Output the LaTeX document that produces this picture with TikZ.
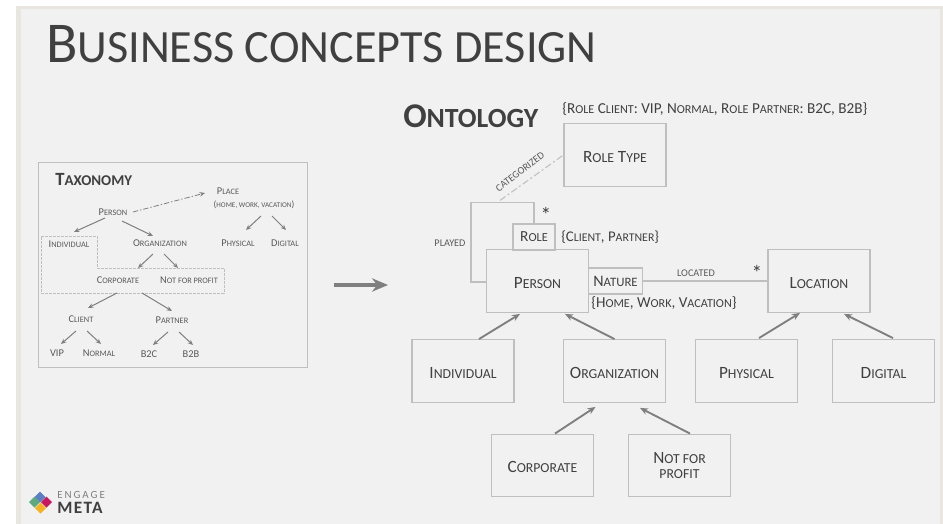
\documentclass[tikz,border=0pt]{standalone}
\usepackage{fontspec}
\setmainfont{Carlito}
\usetikzlibrary{arrows.meta,calc}
\definecolor{slide}{HTML}{F1F1F1}
\definecolor{band}{HTML}{E9E5E1}
\definecolor{edge}{HTML}{BFBFBF}
\definecolor{ink}{HTML}{404040}
\definecolor{inkb}{HTML}{595959}
\definecolor{arr}{HTML}{7F7F7F}
\makeatletter
\newcommand{\sm}[1]{{\fontsize{\fpeval{.8*\f@size}}{0}\selectfont #1}}
\makeatother
\newcommand{\fsz}[1]{\fontsize{#1}{#1}\selectfont}
\newcommand{\low}[1]{\raisebox{-1.4pt}[\height][\depth]{#1}}
\tikzset{
 x=.75pt,y=-.75pt,
 box/.style={draw=edge,line width=.9pt,fill=slide,inner sep=0pt,align=center,text=ink,font=\fsz{12.9},minimum width=76.5pt,minimum height=47pt},
 ttext/.style={inner sep=0pt,text=inkb,font=\fsz{7.8}},
 otext/.style={inner sep=0pt,text=ink,font=\fsz{11.4}},
 rlabel/.style={inner sep=0pt,text=inkb,font=\fsz{9.6}},
 bigtitle/.style={inner sep=0pt,text=ink,anchor=west},
 tarrow/.style={draw=arr,line width=.75pt,-{Stealth[length=4pt,width=3.4pt]}},
 oarrow/.style={draw=arr,line width=1.4pt,-{Stealth[length=6pt,width=5pt]}},
 dashdot/.style={draw=arr,line width=.6pt,dash pattern=on 4pt off 1.5pt on 1pt off 1.5pt},
 odashdot/.style={draw=edge,line width=.8pt,dash pattern=on 5pt off 2pt on 1.5pt off 2pt},
 oline/.style={draw=edge,line width=.9pt},
}
\begin{document}
\begin{tikzpicture}
\useasboundingbox (0,0) rectangle (943,524);
\fill[white] (0,0) rectangle (943,524);
\fill[band] (16,6) rectangle (943,524);
\fill[slide] (21,9) rectangle (940,524);
% titles
\node[bigtitle,font=\fsz{43.3}] (title) at (46,44) {B\sm{USINESS CONCEPTS DESIGN}};
\node[bigtitle,font=\bfseries\fsz{26}] (onto) at (403,116) {O\sm{NTOLOGY}};
% taxonomy
\draw[draw=edge,line width=.7pt] (38,162) rectangle (307,367);
\node[bigtitle,font=\bfseries\fsz{14}] (taxo) at (55,180) {T\sm{AXONOMY}};
\node[ttext] (tper) at (113,212) {P\sm{ERSON}};
\node[ttext] (tpla) at (228,191) {P\sm{LACE}};
\node[ttext,font=\fsz{6.8}] (thome) at (254,205) {(\sm{HOME, WORK, VACATION})};
\node[ttext] (tind) at (69,244) {I\sm{NDIVIDUAL}};
\node[ttext] (torg) at (160,243) {O\sm{RGANIZATION}};
\node[ttext] (tphy) at (238,243) {P\sm{HYSICAL}};
\node[ttext] (tdig) at (285,243) {D\sm{IGITAL}};
\node[ttext] (tcor) at (118,280) {C\sm{ORPORATE}};
\node[ttext] (tnfp) at (189,280) {N\sm{OT FOR PROFIT}};
\node[ttext] (tcli) at (81,319) {C\sm{LIENT}};
\node[ttext] (tpar) at (172,320) {P\sm{ARTNER}};
\node[ttext] (tvip) at (57,353) {VIP};
\node[ttext] (tnor) at (99,353) {N\sm{ORMAL}};
\node[ttext] (tb2c) at (149,354) {B2C};
\node[ttext] (tb2b) at (191,354) {B2B};
\draw[draw=edge,line width=.5pt,dash pattern=on 2pt off 1pt] (41,236) -- (97,236) -- (97,268) -- (224,268) -- (224,293) -- (41,293) -- cycle;
\draw[tarrow] ([shift={(-8,6)}]tper.center) -- ([shift={(5,-12)}]tind.center);
\draw[tarrow] ([shift={(9,9)}]tper.center) -- ([shift={(-7,-7)}]torg.center);
\draw[dashdot,-{Stealth[length=4pt,width=3.4pt]}] ([shift={(20,0)}]tper.center) -- ([shift={(-23,2)}]tpla.center);
\draw[tarrow] ([shift={(7,11)}]thome.center) -- ([shift={(8,-13)}]tphy.center);
\draw[tarrow] ([shift={(18,11)}]thome.center) -- ([shift={(1,-13)}]tdig.center);
\draw[tarrow] ([shift={(-7,11)}]torg.center) -- ([shift={(20,-12)}]tcor.center);
\draw[tarrow] ([shift={(4,11)}]torg.center) -- ([shift={(-11,-12)}]tnfp.center);
\draw[tarrow] ([shift={(-1,13)}]tcor.center) -- ([shift={(7,-11)}]tcli.center);
\draw[tarrow] ([shift={(24,13)}]tcor.center) -- ([shift={(0,-9)}]tpar.center);
\draw[tarrow] ([shift={(-5,12)}]tcli.center) -- ([shift={(4,-9)}]tvip.center);
\draw[tarrow] ([shift={(6,12)}]tcli.center) -- ([shift={(2,-9)}]tnor.center);
\draw[tarrow] ([shift={(-4,12)}]tpar.center) -- ([shift={(4,-9)}]tb2c.center);
\draw[tarrow] ([shift={(7,12)}]tpar.center) -- ([shift={(2,-9)}]tb2b.center);
% big arrow
\coordinate (ga) at (334,285);
\coordinate (gb) at (388,285);
\draw[draw=arr,line width=3pt,-{Stealth[length=12pt,width=10pt]}] (ga) -- (gb);
% ontology
\node[otext,anchor=west] (rolelist) at (562,109) {\{R\sm{OLE} C\sm{LIENT}: VIP, N\sm{ORMAL}, R\sm{OLE} P\sm{ARTNER}: B2C, B2B\}};
\node[box] (rtype) at (615,155) {\low{R\sm{OLE} T\sm{YPE}}};
\node[box] (person) at (537.5,281) {\low{P\sm{ERSON}}};
\node[box,minimum width=31.5pt,minimum height=19.5pt,font=\fsz{11.5}] (role) at (534,237) {R\sm{OLE}};
\node[box,minimum width=41pt,minimum height=19.5pt,font=\fsz{12}] (nature) at (615.5,281) {N\sm{ATURE}};
\node[box] (loc) at (819,281) {\low{L\sm{OCATION}}};
\node[box] (ind) at (463,371) {\low{I\sm{NDIVIDUAL}}};
\node[box] (org) at (614.5,371) {\low{O\sm{RGANIZATION}}};
\node[box] (phy) at (746.5,371) {\low{P\sm{HYSICAL}}};
\node[box] (dig) at (883.5,371) {\low{D\sm{IGITAL}}};
\node[box] (cor) at (542.5,465.5) {\low{C\sm{ORPORATE}}};
\node[box] (nfp) at (679.5,465.5) {N\sm{OT FOR}\\[-1pt]\sm{PROFIT}};
\node[otext,anchor=west,font=\fsz{11.1}] (rolevals) at (561,237) {\{C\sm{LIENT}, P\sm{ARTNER}\}};
\node[otext,anchor=west] (natvals) at (591,303) {\{H\sm{OME}, W\sm{ORK}, V\sm{ACATION}\}};
\node[rlabel] (played) at (450,243) {\sm{PLAYED}};
\node[rlabel] (located) at (696,273) {\sm{LOCATED}};
\node[rlabel,rotate=37] (categ) at (520,172) {\sm{CATEGORIZED}};
\node[inner sep=0pt,text=ink,font=\fsz{16}] (s1) at (546,215) {*};
\node[inner sep=0pt,text=ink,font=\fsz{16}] (s2) at (757,273) {*};
\draw[oline] ([shift={(0,1)}]person.west) -- ++(-15,0) |- ([shift={(0,-21)}]role.north) -- (role.north);
\draw[odashdot] ([shift={(-34,-23)}]role.north) -- (rtype.west);
\draw[oline] (nature.east) -- (loc.west);
\draw[oarrow] ([shift={(16,0)}]ind.north) -- ([shift={(-17.5,1)}]person.south);
\draw[oarrow] (org.north) -- ([shift={(27.5,1)}]person.south);
\draw[oarrow] ([shift={(12.5,-1)}]phy.north) -- ([shift={(-19,0)}]loc.south);
\draw[oarrow] ([shift={(9.5,-1)}]dig.north) -- ([shift={(25,1)}]loc.south);
\draw[oarrow] ([shift={(12.5,0)}]cor.north) -- ([shift={(-19,4)}]org.south);
\draw[oarrow] ([shift={(10.5,0)}]nfp.north) -- ([shift={(25.5,5)}]org.south);
% logo
\definecolor{lgb}{HTML}{5B7FC4}\definecolor{lgg}{HTML}{5FA97F}\definecolor{lgp}{HTML}{C9185F}\definecolor{lgy}{HTML}{F5B324}
\fill[lgb,shift={(40,497)}] (-5.5,0) -- (0,-5.5) -- (5.5,0) -- (0,5.5) -- cycle;
\fill[lgg,shift={(34.5,502)}] (-5.5,0) -- (0,-5.5) -- (5.5,0) -- (0,5.5) -- cycle;
\fill[lgp,shift={(46.5,502)}] (-5.5,0) -- (0,-5.5) -- (5.5,0) -- (0,5.5) -- cycle;
\fill[lgy,shift={(40.5,508)}] (-5.5,0) -- (0,-5.5) -- (5.5,0) -- (0,5.5) -- cycle;
\node[inner sep=0pt,anchor=west,text=arr,font=\fsz{8.2}\addfontfeature{LetterSpace=18}] (lg1) at (57,495) {ENGAGE};
\node[inner sep=0pt,anchor=west,text=ink,font=\bfseries\fsz{13}\addfontfeature{LetterSpace=8}] (lg2) at (57,508) {META};
\end{tikzpicture}
\end{document}
